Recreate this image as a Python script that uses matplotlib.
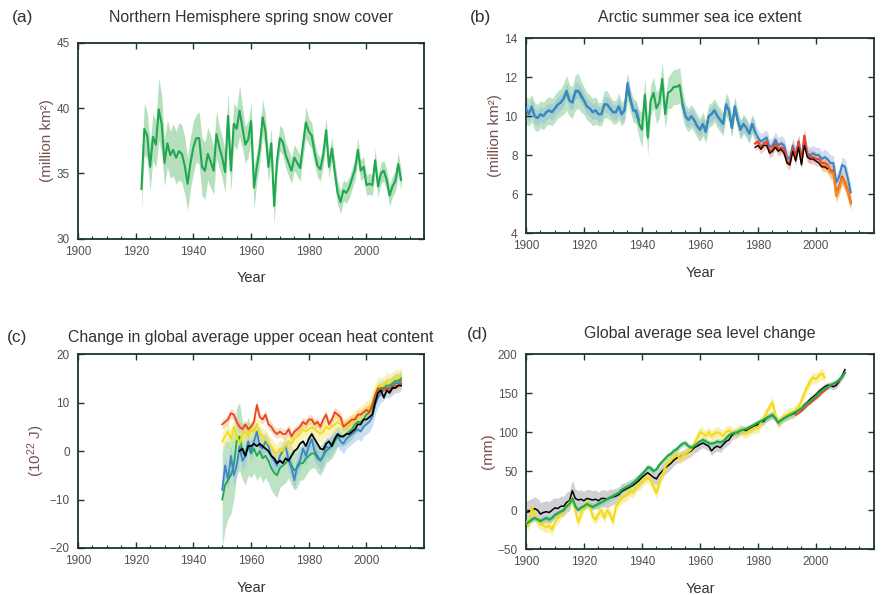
import numpy as np
import matplotlib
matplotlib.use("Agg")
import matplotlib.pyplot as plt
from matplotlib.ticker import MultipleLocator

plt.rcParams['font.family'] = ['Liberation Sans', 'DejaVu Sans']
plt.rcParams['mathtext.fontset'] = 'custom'
plt.rcParams['mathtext.rm'] = 'Liberation Sans'
plt.rcParams['mathtext.it'] = 'Liberation Sans:italic'
plt.rcParams['mathtext.bf'] = 'Liberation Sans:bold'

# ---------------- (a) Northern Hemisphere spring snow cover ----------------
a_start = 1922
a_snow = [33.8, 38.4, 37.9, 35.5, 37.8, 37.2, 39.9, 38.8, 35.8, 37.3,
          36.4, 36.8, 36.2, 36.7, 36.5, 35.6, 34.2, 35.8, 37.0, 37.7,
          37.7, 35.5, 35.2, 36.5, 35.9, 35.2, 38.0, 37.0, 36.2, 35.1,
          39.4, 35.2, 38.8, 38.4, 39.8, 38.5, 37.2, 37.6, 39.0, 33.9,
          35.5, 36.9, 39.3, 38.2, 35.5, 37.3, 32.5, 36.0, 37.7, 37.4,
          36.4, 35.8, 35.2, 36.2, 35.8, 35.4, 37.2, 38.9, 38.2, 37.9,
          36.6, 35.6, 35.3, 36.4, 38.3, 35.5, 36.9, 35.1, 33.5, 32.8,
          33.7, 33.5, 33.9, 34.6, 35.3, 36.8, 35.2, 35.5, 34.1, 34.2,
          34.1, 36.0, 34.0, 35.0, 35.2, 34.5, 33.3, 34.0, 34.4, 35.7,
          34.5]
a_unc = [1.6, 2.0, 1.8, 1.8, 1.8, 1.8, 2.4, 2.2, 1.8, 1.8,
         1.8, 2.0, 2.0, 2.2, 2.2, 2.2, 2.0, 2.0, 2.0, 1.8,
         2.0, 2.2, 2.2, 2.0, 2.0, 1.8, 1.8, 1.6, 1.6, 1.6,
         1.8, 1.6, 1.6, 1.6, 2.0, 1.6, 1.4, 1.4, 1.4, 1.6,
         1.2, 1.2, 1.4, 1.2, 1.2, 1.2, 1.4, 1.0, 1.0, 1.0,
         1.0, 1.0, 1.0, 1.0, 1.0, 1.0, 1.0, 1.2, 1.0, 1.0,
         0.9, 0.9, 0.9, 0.9, 1.0, 0.9, 0.9, 0.9, 0.9, 0.9,
         0.8, 0.8, 0.8, 0.8, 0.8, 0.9, 0.8, 0.8, 0.8, 0.8,
         0.8, 0.9, 0.8, 0.8, 0.8, 0.8, 0.8, 0.8, 0.8, 0.9,
         0.8]

# ---------------- (b) Arctic summer sea ice extent ----------------
b_green_start = 1900
b_green = [10.3, 10.2, 10.4, 10.0, 9.9, 10.1, 10.0, 10.2, 10.3, 10.2,
           10.4, 10.6, 10.7, 10.9, 11.2, 10.8, 10.7, 11.2, 11.3, 11.0,
           10.8, 10.5, 10.4, 10.2, 10.3, 10.1, 10.1, 10.6, 10.6, 10.4,
           10.2, 10.2, 10.5, 10.1, 10.3, 11.5, 10.8, 10.3, 10.2, 9.6,
           9.3, 11.1, 8.9, 10.8, 11.2, 10.4, 10.7, 11.9, 10.1, 11.2,
           11.3, 11.5, 11.5, 11.6, 10.6, 10.0, 9.8, 10.0, 9.8, 9.5,
           9.3, 9.6, 9.2, 10.0, 10.1, 10.3, 10.0, 9.8, 9.6, 10.6,
           10.3, 9.4, 10.5, 9.8, 9.3, 9.6, 9.4, 9.1, 9.6, 9.2]
b_green_unc = [0.7, 0.7, 0.7, 0.7, 0.7, 0.7, 0.7, 0.7, 0.7, 0.7,
               0.7, 0.7, 0.7, 0.8, 0.9, 0.8, 0.8, 0.9, 0.9, 0.8,
               0.7, 0.7, 0.7, 0.7, 0.7, 0.6, 0.6, 0.7, 0.7, 0.6,
               0.6, 0.6, 0.7, 0.6, 0.6, 0.7, 0.6, 0.6, 0.6, 0.7,
               0.9, 0.9, 0.9, 0.8, 0.8, 0.8, 0.8, 0.9, 0.8, 0.8,
               0.9, 0.9, 0.9, 0.9, 0.7, 0.6, 0.6, 0.6, 0.6, 0.6,
               0.6, 0.6, 0.6, 0.6, 0.6, 0.6, 0.6, 0.6, 0.6, 0.6,
               0.6, 0.5, 0.5, 0.5, 0.5, 0.5, 0.5, 0.5, 0.5, 0.5]
b_blue_early_start = 1900
b_blue_early = [10.4, 10.1, 10.5, 10.0, 9.9, 10.1, 10.0, 10.2, 10.3, 10.2,
                10.4, 10.6, 10.7, 10.9, 11.3, 10.8, 10.7, 11.3, 11.3, 11.1,
                10.8, 10.5, 10.4, 10.2, 10.3, 10.1, 10.1, 10.6, 10.6, 10.4,
                10.2, 10.2, 10.5, 10.1, 10.3, 11.7, 10.9, 10.3, 10.3, 9.8]
b_blue_late_start = 1954
b_blue_late = [10.6, 10.0, 9.8, 10.0, 9.8, 9.5,
               9.3, 9.6, 9.2, 10.0, 10.1, 10.3, 10.0, 9.8, 9.6, 10.6,
               10.3, 9.4, 10.5, 9.8, 9.3, 9.6, 9.4, 9.1, 9.6, 9.2,
               8.9, 8.7, 8.8, 8.9, 8.4, 8.5, 8.8, 8.5, 8.6, 8.5,
               7.9, 7.8, 8.5, 8.0, 8.7, 7.8, 8.9, 8.1, 8.0, 8.1,
               8.0, 8.0, 7.8, 7.9, 7.8, 7.6, 7.6, 6.6, 6.9, 7.5,
               7.4, 6.8, 6.1]
b_blue_unc = 0.4
b_red_start = 1979
b_red = [8.6, 8.7, 8.4, 8.6, 8.7, 8.2, 8.3, 8.6, 8.3, 8.4,
         8.3, 7.7, 7.6, 8.4, 7.8, 8.7, 7.6, 9.0, 8.0, 7.9,
         7.9, 7.8, 7.8, 7.6, 7.6, 7.5, 7.2, 7.2, 6.0, 6.4,
         6.9, 6.6, 6.2, 5.6]
b_red_unc = 0.35
b_black_start = 1979
b_black = [8.4, 8.5, 8.3, 8.5, 8.5, 8.1, 8.2, 8.4, 8.2, 8.3,
           8.1, 7.6, 7.5, 8.2, 7.7, 8.4, 7.5, 8.5, 7.9, 7.8,
           7.8, 7.7, 7.6, 7.4, 7.4, 7.3]
b_orange_start = 2002
b_orange = [7.5, 7.5, 7.4, 7.1, 7.1, 5.9, 6.3, 6.8, 6.5, 6.1, 5.5]
b_orange_unc = 0.35

# ---------------- (c) Upper ocean heat content ----------------
c_start = 1950
c_orange = [5.5, 6.0, 6.5, 7.8, 7.5, 6.0, 5.0, 4.5, 5.5, 4.5,
            5.0, 6.0, 9.5, 7.0, 6.5, 7.5, 5.5, 5.0, 4.0, 3.5,
            4.0, 3.5, 3.5, 4.5, 3.0, 4.0, 4.5, 5.0, 6.0, 5.5,
            6.5, 6.5, 5.5, 6.0, 5.0, 6.5, 7.5, 5.5, 6.5, 8.0,
            7.5, 7.0, 5.0, 5.5, 6.0, 6.5, 6.5, 7.5, 7.5, 8.0,
            8.5, 8.0, 9.5, 11.5, 13.0, 12.5, 12.8, 13.0, 12.5, 13.2,
            13.5, 13.5, 14.0]
c_yellow = [2.0, 3.0, 4.0, 2.5, 5.0, 3.0, 1.5, 3.5, 4.0, 3.0,
            4.5, 4.0, 5.5, 3.5, 3.0, 2.5, 1.5, 1.0, 0.0, -0.5,
            0.5, 0.0, 1.0, 2.0, 1.5, 2.5, 3.0, 3.5, 4.5, 4.0,
            4.5, 5.0, 4.5, 4.0, 3.5, 4.0, 5.0, 4.5, 5.0, 5.5,
            6.0, 5.5, 5.0, 5.0, 5.5, 6.0, 6.5, 7.0, 7.5, 8.0,
            8.5, 9.0, 10.0, 12.0, 13.5, 13.5, 13.5, 14.5, 14.0, 14.5,
            15.0, 15.0, 15.5]
c_blue = [-8.0, -3.0, -6.0, -1.0, -5.0, -3.0, 1.0, -2.0, -1.0, 2.0,
          0.0, 2.0, 4.0, 1.0, 0.5, 2.0, 1.0, -1.0, -2.0, -3.0,
          -1.0, 0.0, 1.0, -2.0, -3.5, -6.0, -3.0, -2.0, 0.5, -1.0,
          1.0, 2.5, 0.0, -1.0, -2.0, -1.0, 1.0, 0.5, 1.5, 2.5,
          3.0, 2.0, 1.5, 2.5, 3.0, 3.5, 4.0, 4.5, 4.0, 5.0,
          5.5, 6.0, 7.0, 9.5, 11.0, 12.0, 12.5, 13.0, 13.0, 13.5,
          14.0, 14.0, 14.5]
c_green = [-10.0, -7.0, -6.0, -5.0, -3.0, 2.0, 3.0, 0.0, -1.0, 1.0,
           -0.5, 0.5, -1.0, 0.0, -1.5, -1.0, -2.0, -3.5, -4.5, -5.0,
           -3.5, -3.0, -2.5, -1.5, -3.0, -4.0, -3.5, -2.5, -2.5, -1.5,
           -1.0, -0.5, -0.5, -1.5, -2.0, -1.0, 0.0, 0.5, 1.0, 2.0,
           3.0, 3.0, 3.0, 3.5, 4.0, 4.5, 5.5, 6.0, 6.0, 6.5,
           7.5, 8.0, 9.0, 11.0, 12.5, 13.0, 13.0, 13.5, 13.5, 14.0,
           14.5, 14.5, 15.0]
c_green_unc = [10, 9, 8, 8, 7, 7, 7, 6, 6, 6,
               5, 5, 5, 5, 5, 4.5, 4.5, 4.5, 4.5, 4.5,
               4, 4, 4, 4, 4, 4, 4, 3.5, 3.5, 3.5,
               3, 3, 3, 3, 3, 3, 2.5, 2.5, 2.5, 2.5,
               2, 2, 2, 2, 2, 2, 2, 2, 1.8, 1.8,
               1.8, 1.8, 1.5, 1.5, 1.5, 1.5, 1.5, 1.5, 1.5, 1.5,
               1.5, 1.5, 1.5]
c_blue_unc = 2.0
c_yellow_unc = 1.8
c_orange_unc = 1.0
c_black_start = 1956
c_black = [0.0, 0.5, -1.0, 1.0, 1.0, 1.5, 1.0, 1.5, 1.0, 0.5,
           0.0, -1.0, -1.5, -2.5, -2.0, -2.5, -1.5, -2.0, -1.0, 0.0,
           0.5, 1.5, 2.0, 1.0, 2.5, 3.5, 2.5, 1.5, 0.5, 0.3,
           1.5, 2.0, 1.0, 2.5, 3.5, 3.0, 3.0, 3.5, 3.5, 4.0,
           4.5, 5.5, 5.5, 6.5, 6.5, 7.0, 7.5, 10.0, 12.0, 12.5,
           11.0, 12.5, 12.0, 13.0, 13.0, 13.5, 13.5]

# ---------------- (d) Global average sea level change ----------------
d_start = 1900
d_black = [-3, -2, 0, 2, 0, -5, -3, -2, -3, 0,
           3, 2, 5, 5, 10, 12, 25, 15, 13, 14,
           12, 15, 14, 13, 14, 12, 15, 15, 14, 16,
           17, 18, 20, 24, 26, 28, 30, 32, 35, 38,
           42, 45, 48, 45, 42, 40, 46, 50, 54, 57,
           60, 64, 67, 68, 70, 72, 74, 76, 80, 82,
           84, 86, 84, 82, 76, 80, 82, 80, 84, 88,
           90, 96, 98, 99, 103, 102, 102, 104, 106, 108,
           110, 112, 114, 118, 120, 122, 118, 112, 116, 118,
           120, 122, 123, 125, 128, 130, 135, 138, 142, 145,
           148, 152, 155, 158, 160, 160, 158, 160, 165, 172,
           180]
d_gray_unc = [15, 15, 15, 15, 15, 15, 14, 14, 14, 14,
              13, 13, 13, 13, 13, 13, 13, 12, 12, 12,
              12, 12, 12, 12, 12, 11, 11, 11, 11, 11,
              10, 10, 10, 10, 9, 9, 9, 9, 9, 9,
              8, 8, 8, 8, 8, 8, 8, 8, 8, 8,
              7, 7, 7, 7, 7, 7, 7, 7, 7, 7,
              6, 6, 6, 6, 6, 6, 6, 6, 6, 6,
              6, 6, 6, 6, 6, 6, 5, 5, 5, 5,
              5, 5, 5, 5, 5, 5, 5, 5, 5, 5,
              5, 5, 5, 5, 5, 4, 4, 4, 4, 4,
              4, 4, 4, 4, 4, 4, 4, 4, 4, 4,
              4]
d_green = [-18, -15, -12, -10, -12, -14, -12, -10, -12, -10,
           -6, -4, -2, 0, 5, 8, 15, 5, 0, 3,
           5, 8, 6, 4, 6, 8, 10, 12, 14, 16,
           18, 20, 22, 26, 28, 30, 32, 35, 38, 42,
           46, 50, 55, 54, 50, 52, 58, 62, 66, 70,
           72, 76, 78, 82, 85, 86, 82, 80, 82, 85,
           88, 90, 88, 86, 85, 86, 88, 87, 88, 92,
           96, 98, 99, 100, 102, 103, 104, 106, 108, 110,
           112, 114, 116, 118, 120, 122, 118, 112, 115, 118,
           120, 122, 124, 126, 128, 130, 134, 137, 140, 143,
           146, 150, 153, 156, 158, 160, 162, 164, 167, 171,
           176]
d_green_unc = 4
d_yellow = [-15, -20, 3, -5, -15, -18, -20, -22, -20, -25,
            -15, -10, -5, 0, 5, 10, 15, 0, -15, -5,
            5, 10, 5, -8, -12, -5, 0, -10, 0, -5,
            -15, 5, 10, 15, 18, 20, 25, 22, 30, 33,
            36, 40, 42, 38, 30, 22, 35, 45, 55, 62,
            65, 68, 72, 66, 70, 72, 75, 78, 85, 92,
            100, 98, 95, 100, 95, 98, 100, 98, 95, 100,
            102, 100, 98, 100, 103, 100, 99, 102, 104, 106,
            105, 112, 118, 125, 132, 138, 122, 112, 115, 120,
            122, 125, 124, 128, 132, 140, 150, 158, 165, 170,
            168, 172, 175, 170]
d_yellow_unc = 7
d_red_start = 1993
d_red = [122, 124, 127, 130, 134, 137, 140, 143, 146, 150,
         153, 156, 160, 162, 163, 166, 170, 176]

# ---------------- text ----------------
titles = ["Northern Hemisphere spring snow cover",
          "Arctic summer sea ice extent",
          "Change in global average upper ocean heat content",
          "Global average sea level change"]
panel_tags = ["(a)", "(b)", "(c)", "(d)"]
ylabels = ["(million km²)", "(million km²)", "(10$^{22}$ J)", "(mm)"]
ylims = [(30, 45), (4, 14), (-20, 20), (-50, 200)]
ysteps = [5, 2, 10, 50]
xticks = [1900, 1920, 1940, 1960, 1980, 2000]

C_GREEN = '#1fa84f'
C_GREEN_F = '#86cc92'
C_BLUE = '#3a86c8'
C_BLUE_F = '#8fb6e2'
C_RED = '#e8442a'
C_ORANGE = '#f28a1e'
C_YELLOW = '#f3dc16'
C_GRAY_F = '#a9a9b4'
TXT = '#333333'
TICK_TXT = '#505050'
YLAB = '#7a5050'
SPINE = '#1c3333'

fig = plt.figure(figsize=(8.81, 5.95), dpi=100)
rects = [(0.0885, 0.599, 0.393, 0.329),
         (0.597, 0.608, 0.395, 0.328),
         (0.0885, 0.079, 0.393, 0.326),
         (0.597, 0.077, 0.395, 0.328)]
title_y = [0.971, 0.971, 0.432, 0.440]
tag_xy = [(0.014, 0.971), (0.533, 0.971), (0.008, 0.432), (0.530, 0.437)]
axes = [fig.add_axes(r) for r in rects]


def yrs(start, vals):
    return np.arange(start, start + len(vals))


def band(ax, start, vals, unc, color, alpha, z):
    x = yrs(start, vals)
    v = np.asarray(vals, float)
    u = np.asarray(unc, float) if np.ndim(unc) else np.full(len(v), float(unc))
    ax.fill_between(x, v - u, v + u, color=color, alpha=alpha, lw=0, zorder=z)


def line(ax, start, vals, color, lw, z):
    ax.plot(yrs(start, vals), vals, color=color, lw=lw, zorder=z)


# (a)
ax = axes[0]
band(ax, a_start, a_snow, a_unc, C_GREEN_F, 0.6, 1)
line(ax, a_start, a_snow, C_GREEN, 1.5, 3)

# (b)
ax = axes[1]
band(ax, b_green_start, b_green, b_green_unc, C_GREEN_F, 0.55, 1)
band(ax, b_blue_early_start, b_blue_early, b_blue_unc, C_BLUE_F, 0.45, 1.5)
band(ax, b_blue_late_start, b_blue_late, b_blue_unc, C_BLUE_F, 0.45, 1.5)
band(ax, b_red_start, b_red, b_red_unc, '#f09a80', 0.5, 1.7)
band(ax, b_orange_start, b_orange, b_orange_unc, '#f7b36a', 0.5, 1.8)
line(ax, b_green_start, b_green, C_GREEN, 1.5, 2)
line(ax, b_blue_early_start, b_blue_early, C_BLUE, 1.5, 3)
line(ax, b_blue_late_start, b_blue_late, C_BLUE, 1.5, 3)
line(ax, b_red_start, b_red, C_RED, 1.6, 4)
line(ax, b_orange_start, b_orange, C_ORANGE, 1.6, 5)
line(ax, b_black_start, b_black, 'black', 1.0, 6)

# (c)
ax = axes[2]
band(ax, c_start, c_green, c_green_unc, C_GREEN_F, 0.55, 1)
band(ax, c_start, c_blue, c_blue_unc, C_BLUE_F, 0.45, 1.2)
band(ax, c_start, c_yellow, c_yellow_unc, '#f6ea80', 0.55, 1.3)
band(ax, c_start, c_orange, c_orange_unc, '#f7b36a', 0.45, 1.4)
line(ax, c_start, c_green, C_GREEN, 1.3, 2)
line(ax, c_start, c_blue, C_BLUE, 1.3, 3)
line(ax, c_start, c_yellow, C_YELLOW, 1.3, 4)
line(ax, c_start, c_orange, C_RED, 1.3, 5)
line(ax, c_black_start, c_black, 'black', 1.3, 6)

# (d)
ax = axes[3]
band(ax, d_start, d_black, d_gray_unc, C_GRAY_F, 0.55, 1)
band(ax, d_start, d_yellow, d_yellow_unc, '#f6e46a', 0.55, 1.2)
band(ax, d_start, d_green, d_green_unc, C_GREEN_F, 0.5, 1.3)
line(ax, d_start, d_black, 'black', 1.1, 2)
line(ax, d_start, d_yellow, C_YELLOW, 1.5, 3)
line(ax, d_red_start, d_red, C_RED, 1.3, 4)
line(ax, d_start, d_green, C_GREEN, 1.6, 5)

for i, ax in enumerate(axes):
    ax.set_xlim(1900, 2020)
    ax.set_ylim(*ylims[i])
    ax.set_xticks(xticks)
    ax.xaxis.set_minor_locator(MultipleLocator(5))
    ax.yaxis.set_major_locator(MultipleLocator(ysteps[i]))
    ax.tick_params(which='both', direction='in', top=True, right=True,
                   colors=SPINE, labelcolor=TICK_TXT, labelsize=8.5)
    ax.tick_params(which='major', length=4, width=1.0)
    ax.tick_params(which='minor', length=2, width=0.8, top=False)
    ax.tick_params(axis='x', pad=5)
    ax.tick_params(axis='y', pad=6)
    for s in ax.spines.values():
        s.set_color(SPINE)
        s.set_linewidth(1.3)
    ax.set_xlabel("Year", fontsize=10.5, color=TXT, labelpad=10)
    ax.set_ylabel(ylabels[i], fontsize=11, color=YLAB, labelpad=2)
    bb = rects[i]
    cx = bb[0] + bb[2] / 2
    fig.text(cx, title_y[i], titles[i], ha='center', va='center',
             fontsize=11.4, color=TXT)
    fig.text(tag_xy[i][0], tag_xy[i][1], panel_tags[i], ha='left', va='center',
             fontsize=12.5, color=TXT)

fig.savefig("out.png", dpi=100)
